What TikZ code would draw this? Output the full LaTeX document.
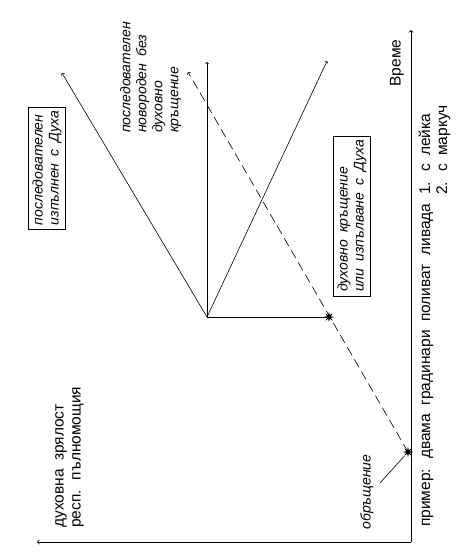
\documentclass[tikz,border=0pt]{standalone}
\usepackage{fontspec}
\setmainfont{Liberation Sans}
\usepackage{tikz}
\usetikzlibrary{shapes.geometric}

\newcommand{\widesp}[1]{\spaceskip #1em\relax}

\begin{document}
\begin{tikzpicture}[x=1pt,y=-1pt,
	lbl/.style={rotate=90, align=left, inner sep=0pt, font=\fontsize{15.5}{17}\selectfont\widesp{0.55}},
	itlbl/.style={lbl, font=\fontsize{14}{16}\selectfont\itshape\widesp{0.5}},
	boxlbl/.style={itlbl, draw, line width=0.5pt, inner sep=4pt},
	starmark/.style={star, star points=8, star point ratio=2.4, fill, inner sep=0pt, minimum size=10pt},
	line width=0.6pt]

	\useasboundingbox (0,0) rectangle (467,559);

	% axes
	\coordinate (o) at (411,542);
	\coordinate (t) at (411,30);
	\coordinate (m) at (37,542);
	\draw[->, line width=0.8pt] (o) -- (t);
	\draw[->, line width=0.8pt] (o) -- (m);

	% branches
	\coordinate (p) at (207,317);
	\node[starmark] (s1) at (329,317) {};
	\node[starmark] (s2) at (408,452) {};
	\coordinate (a1) at (62,73);
	\coordinate (a2) at (207,62);
	\coordinate (a3) at (327,61);
	\coordinate (d) at (188,72);
	\draw[dashed, dash pattern=on 9pt off 5pt, ->] (s2.center) -- (d);
	\draw (s1.center) -- (p);
	\draw[->] (p) -- (a1);
	\draw[->] (p) -- (a2);
	\draw[->] (p) -- (a3);

	% labels
	\node[lbl] (vreme) at (397,63) {Време};
	\node[lbl, anchor=base west] (primer) at (430,527)
		{пример: двама градинари поливат ливада \begin{tabular}[t]{@{}l@{}}1. с лейка\\2. с маркуч\end{tabular}};
	\node[lbl, anchor=north west] (zrialost) at (55,528) {духовна зрялост\\респ. пълномощия};
	\node[itlbl, anchor=north west] (novoroden) at (120,133)
		{последователен\\новороден без\\духовно\\кръщение};
	\node[itlbl] (obr) at (367,492) {обръщение};
	\coordinate (l) at (380,483);
	\draw (l) -- (s2);
	\node[boxlbl] (izpalnen) at (47,168) {последователен\\изпълнен с Духа};
	\node[boxlbl] (krashtenie) at (352,216) {духовно кръщение\\или изпълване с Духа};

\end{tikzpicture}
\end{document}
